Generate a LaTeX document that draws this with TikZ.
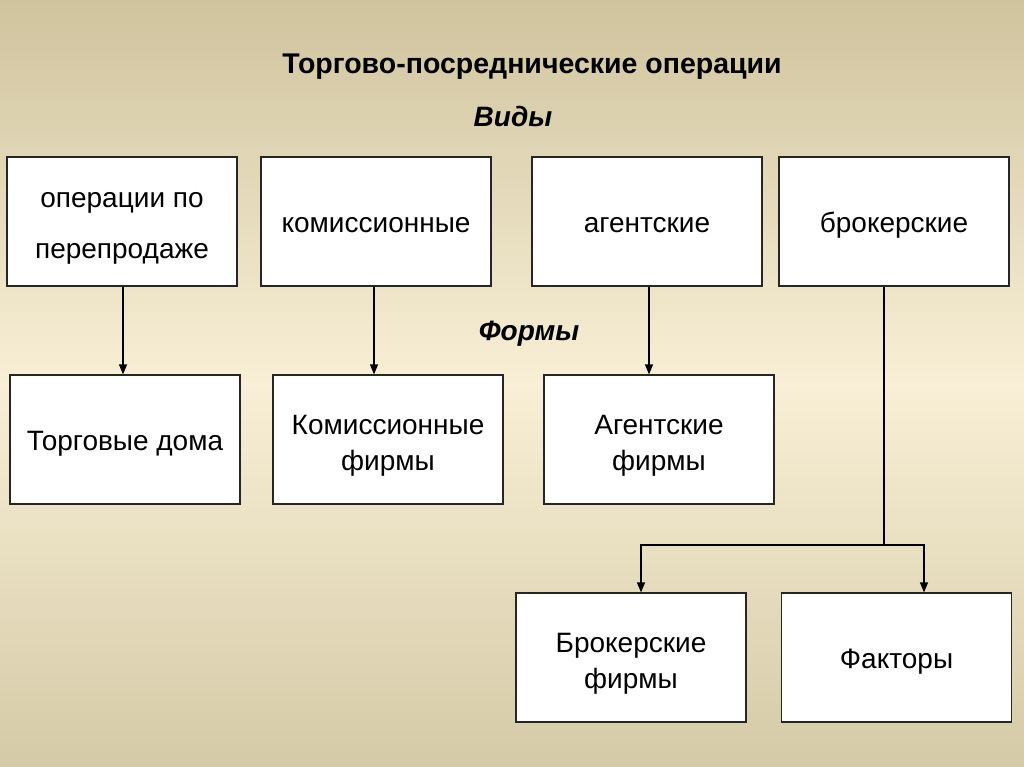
\documentclass[tikz,border=0pt]{standalone}
\usepackage{fontspec}
\setmainfont{Liberation Sans}
\usetikzlibrary{arrows.meta}
\definecolor{bgedge}{RGB}{208,196,158}
\definecolor{bgmid}{RGB}{248,239,214}
\definecolor{bgbottom}{RGB}{213,202,166}
\tikzstyle{heading} = [draw=none, font=\bfseries\fontsize{28.5}{34}\selectfont]
\tikzstyle{subheading} = [draw=none, font=\bfseries\itshape\fontsize{28}{34}\selectfont]
\tikzstyle{kind} = [rectangle, minimum width=230pt, minimum height=129pt, align=center, draw=black!85, line width=1.2pt, fill=white, font=\fontsize{28}{36}\selectfont, text height=22pt, text depth=0pt]
\tikzstyle{kind_two} = [kind, text height=62pt]
\tikzstyle{kind_wide} = [kind, text height=74pt]
\tikzstyle{arrow} = [line width=1.2pt, -{Triangle[length=10pt,width=8pt]}]
\tikzstyle{line} = [line width=1.2pt]

\begin{document}
\begin{tikzpicture}[x=1pt,y=-1pt]
		\useasboundingbox (0,0) rectangle (1024,767);
		\shade[top color=bgedge, bottom color=bgbottom, middle color=bgmid] (0,0) rectangle (1024,767);

		\node (title) [heading] at (532,67) {Торгово-посреднические операции};
		\node (vidy) [subheading] at (513,116) {Виды};
		\node (formy) [subheading] at (529,334) {Формы};

		% виды
		\node (resale) [kind_wide] at (122,221.5) {операции по\\[15pt]перепродаже};
		\node (commission) [kind] at (376,221.5) {комиссионные};
		\node (agency) [kind] at (647,221.5) {агентские};
		\node (broker) [kind] at (894,221.5) {брокерские};

		% формы
		\node (houses) [kind] at (125,439.5) {Торговые дома};
		\node (commission_firms) [kind_two] at (388,439.5) {Комиссионные\\фирмы};
		\node (agency_firms) [kind_two] at (659,439.5) {Агентские\\фирмы};
		\node (broker_firms) [kind_two] at (631,657.5) {Брокерские\\фирмы};
		\node (factors) [kind] at (896.5,657.5) {Факторы};

		\coordinate (split) at (884,545);
		\coordinate (split_left) at (641,545);
		\coordinate (split_right) at (924,545);

		\draw [arrow] (123,0 |- resale.south) -- (123,0 |- houses.north);
		\draw [arrow] (374,0 |- commission.south) -- (374,0 |- commission_firms.north);
		\draw [arrow] (649,0 |- agency.south) -- (649,0 |- agency_firms.north);
		\draw [line] (split |- broker.south) -- (split);
		\draw [arrow] (split) -- (split_left) -- (split_left |- broker_firms.north);
		\draw [arrow] (split) -- (split_right) -- (split_right |- factors.north);

\end{tikzpicture}
\end{document}
